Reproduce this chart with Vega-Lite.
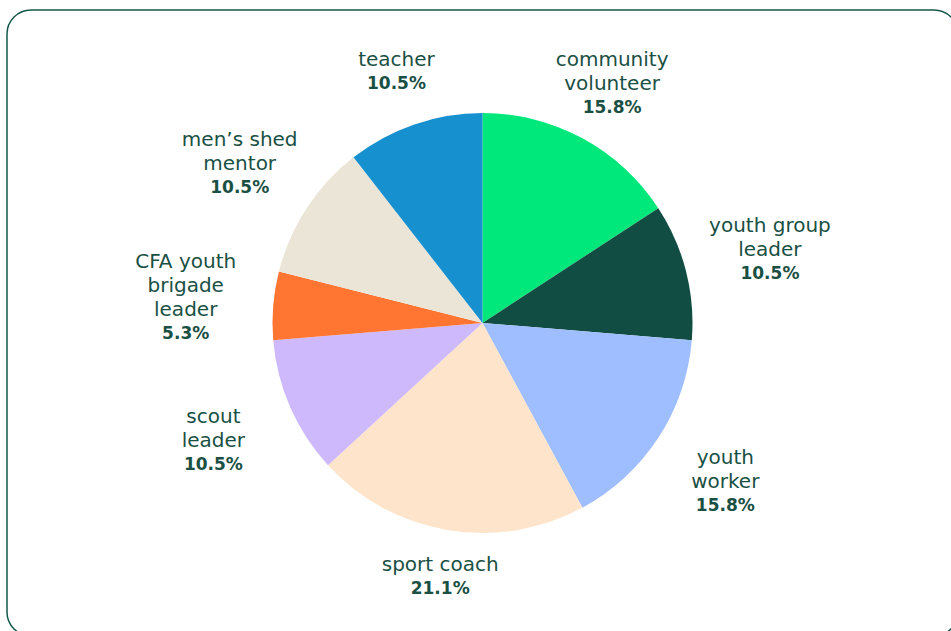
{
  "$schema": "https://vega.github.io/schema/vega-lite/v6.json",
  "width": 951,
  "height": 626,
  "autosize": {"type": "none"},
  "padding": {"left": 7, "top": 10, "right": 0, "bottom": 0},
  "background": "white",
  "view": {"stroke": "#14584A", "strokeWidth": 1.5, "cornerRadius": 24},
  "config": {
    "text": {"font": "DejaVu Sans", "fontSize": 20, "lineHeight": 24, "color": "#1A5044"}
  },
  "data": {
    "values": [
      {"idx": 1, "role": "community volunteer", "value": 3, "nameLines": ["community", "volunteer"], "pct": "15.8%"},
      {"idx": 2, "role": "youth group leader", "value": 2, "nameLines": ["youth group", "leader"], "pct": "10.5%"},
      {"idx": 3, "role": "youth worker", "value": 3, "nameLines": ["youth", "worker"], "pct": "15.8%"},
      {"idx": 4, "role": "sport coach", "value": 4, "nameLines": ["sport coach"], "pct": "21.1%"},
      {"idx": 5, "role": "scout leader", "value": 2, "nameLines": ["scout", "leader"], "pct": "10.5%"},
      {"idx": 6, "role": "CFA youth brigade leader", "value": 1, "nameLines": ["CFA youth", "brigade", "leader"], "pct": "5.3%"},
      {"idx": 7, "role": "men’s shed mentor", "value": 2, "nameLines": ["men’s shed", "mentor"], "pct": "10.5%"},
      {"idx": 8, "role": "teacher", "value": 2, "nameLines": ["teacher"], "pct": "10.5%"}
    ]
  },
  "transform": [
    {"joinaggregate": [{"op": "sum", "field": "value", "as": "total"}]},
    {"window": [{"op": "sum", "field": "value", "as": "cum"}], "sort": [{"field": "idx"}], "frame": [null, 0]},
    {"calculate": "datum.cum - datum.value / 2", "as": "mid"},
    {"calculate": "abs(sin(datum.mid / datum.total * 2 * PI))", "as": "side"},
    {"calculate": "length(datum.nameLines)", "as": "n"}
  ],
  "layer": [
    {
      "mark": {"type": "arc", "outerRadius": 210},
      "encoding": {
        "theta": {"field": "value", "type": "quantitative", "stack": true},
        "order": {"field": "idx", "type": "quantitative"},
        "color": {
          "field": "role",
          "type": "nominal",
          "legend": null,
          "scale": {
            "domain": ["community volunteer", "youth group leader", "youth worker", "sport coach", "scout leader", "CFA youth brigade leader", "men’s shed mentor", "teacher"],
            "range": ["#00E87B", "#114D43", "#9EBEFF", "#FDE4CA", "#CFB9FD", "#FF7531", "#EBE5D7", "#1790CF"]
          }
        }
      }
    },
    {
      "mark": {"type": "text", "align": "center", "baseline": "middle", "dy": {"expr": "-12 * datum.n"}},
      "encoding": {
        "theta": {"field": "mid", "type": "quantitative", "stack": null},
        "radius": {"field": "side", "type": "quantitative", "scale": {"type": "linear", "domain": [0, 1], "range": [249, 298], "zero": false}},
        "text": {"field": "nameLines"}
      }
    },
    {
      "mark": {"type": "text", "align": "center", "baseline": "middle", "fontWeight": "bold", "fontSize": 17, "dy": {"expr": "12 * datum.n"}},
      "encoding": {
        "theta": {"field": "mid", "type": "quantitative", "stack": null},
        "radius": {"field": "side", "type": "quantitative", "scale": {"type": "linear", "domain": [0, 1], "range": [249, 298], "zero": false}},
        "text": {"field": "pct"}
      }
    }
  ]
}
